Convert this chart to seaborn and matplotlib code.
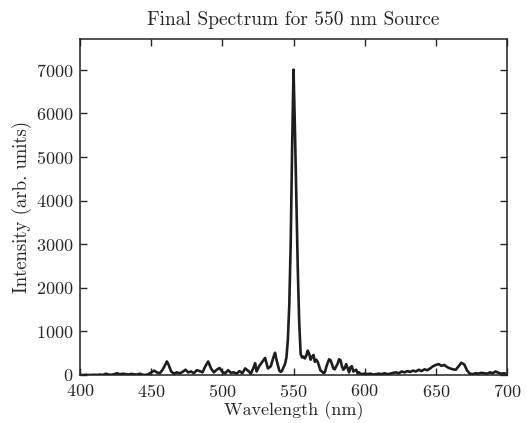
import matplotlib
matplotlib.use("Agg")
import matplotlib.pyplot as plt
import seaborn as sns
import pandas as pd

# spectrum (nm, arb. units)
wavelength = [
    400, 402, 404, 406, 408, 410, 412, 414, 416, 418, 420, 422, 424, 426, 428,
    430, 432, 434, 436, 438, 440, 442, 444, 446, 448, 450, 452, 454, 456, 458,
    460, 461, 462, 464, 466, 468, 470, 472, 474, 476, 478, 480, 482, 484, 486,
    488, 490, 492, 494, 496, 498, 500, 502, 504, 506, 508, 510, 512, 514, 516,
    518, 520, 522, 523, 524, 526, 528, 530, 532, 534, 536, 537, 538, 540, 541,
    542, 543, 544, 545, 546, 547, 548, 549, 550, 551, 552, 553, 554, 555, 556,
    557, 558, 559, 560, 561, 562, 563, 564, 565, 566, 567, 568, 569, 570, 571,
    572, 573, 574, 575, 576, 577, 578, 579, 580, 581, 582, 583, 584, 585, 586,
    587, 588, 589, 590, 591, 592, 593, 594, 595, 596, 597, 598, 600, 602, 604,
    606, 608, 610, 612, 614, 616, 618, 620, 622, 624, 626, 628, 630, 632, 634,
    636, 638, 640, 642, 644, 646, 648, 650, 652, 654, 656, 658, 660, 662, 664,
    666, 668, 670, 672, 674, 676, 678, 680, 682, 684, 686, 688, 690, 692, 694,
    696, 698, 700,
]
intensity = [
    0, 0, 5, 0, 0, 5, 0, 10, 0, 30, 10, 5, 20, 40, 15,
    30, 20, 10, 25, 15, 10, 30, 5, 0, 20, 60, 100, 60, 40, 120,
    250, 310, 250, 80, 30, 60, 40, 70, 120, 60, 80, 40, 110, 90, 60,
    200, 310, 150, 60, 120, 160, 70, 40, 110, 50, 60, 30, 90, 40, 150,
    100, 30, 180, 270, 80, 210, 300, 390, 150, 200, 420, 510, 350, 100, 70,
    100, 180, 250, 400, 800, 1600, 3000, 5200, 7000, 5600, 4000, 2400, 1200, 480, 400,
    420, 380, 450, 560, 480, 350, 420, 460, 300, 350, 300, 200, 100, 80, 40,
    60, 180, 280, 360, 340, 250, 150, 130, 200, 260, 360, 340, 200, 120, 160,
    250, 160, 60, 180, 200, 80, 100, 120, 40, 60, 30, 20, 30, 20, 30,
    10, 20, 30, 20, 40, 20, 30, 50, 60, 40, 80, 60, 90, 70, 100,
    80, 120, 90, 130, 110, 150, 200, 230, 250, 210, 230, 180, 150, 130, 120,
    200, 280, 240, 100, 30, 20, 40, 30, 50, 40, 30, 60, 40, 80, 50,
    30, 40, 20,
]

df = pd.DataFrame({"wavelength": wavelength, "intensity": intensity})

sns.set_style("ticks")
plt.rcParams["font.family"] = ["cmr10", "DejaVu Serif"]
plt.rcParams["mathtext.fontset"] = "cm"
plt.rcParams["axes.formatter.use_mathtext"] = True
plt.rcParams["axes.unicode_minus"] = False

fig = plt.figure(figsize=(5.27, 4.23), dpi=100)
ax = fig.add_axes([0.152, 0.1135, 0.810, 0.794])

sns.lineplot(data=df, x="wavelength", y="intensity", ax=ax,
             color="#1e1e1e", linewidth=1.9)

ax.set_xlim(400, 700)
ax.set_ylim(0, 7700)
ax.set_xticks(range(400, 701, 50))
ax.set_yticks(range(0, 7001, 1000))
ax.tick_params(direction="in", top=True, right=True, length=5, width=1,
               labelsize=13)
ax.tick_params(axis="x", pad=5.5)
ax.tick_params(axis="y", pad=5)
for sp in ax.spines.values():
    sp.set_linewidth(1.1)
    sp.set_color("#222222")

ax.set_xlabel("Wavelength (nm)", fontsize=13, labelpad=1)
ax.set_ylabel("Intensity (arb. units)", fontsize=13.5, labelpad=3)
ax.set_title("Final Spectrum for 550 nm Source", fontsize=14, pad=10)

fig.savefig("out.png", dpi=100)
